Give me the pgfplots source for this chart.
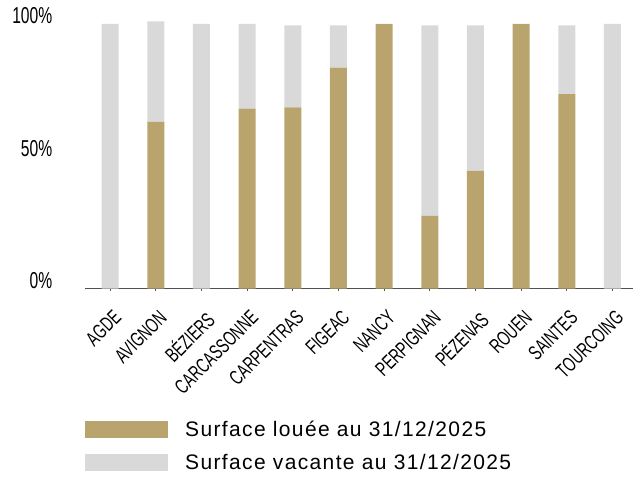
\documentclass[border=0pt]{standalone}
\usepackage{fontspec}
\setmainfont{Liberation Sans}
\newfontfamily\condfont{Liberation Sans}[FakeStretch=0.68]
\newfontfamily\legfont{Liberation Sans}[LetterSpace=6.5]
\usepackage{pgfplots}
\pgfplotsset{compat=1.18}
\definecolor{gold}{HTML}{B8A46C}
\definecolor{lgray}{HTML}{D9D9D9}
\definecolor{axgray}{HTML}{505050}
\begin{document}
\begin{tikzpicture}
\begin{axis}[
  scale only axis,
  width=548bp, height=264.7bp,
  ybar stacked, bar width=17bp,
  xmin=-0.55, xmax=11.45,
  ymin=0, ymax=100,
  clip=false,
  axis x line*=bottom, axis y line*=left,
  y axis line style={draw=none},
  x axis line style={draw=axgray, line width=1.3bp},
  ytick={0,50,100}, yticklabels={0\%,50\%,100\%},
  ytick style={draw=none},
  xtick={0,...,11},
  xticklabels={AGDE,AVIGNON,BÉZIERS,CARCASSONNE,CARPENTRAS,FIGEAC,NANCY,PERPIGNAN,PÉZENAS,ROUEN,SAINTES,TOURCOING},
  xtick style={draw=axgray, line width=0.8bp},
  tick align=outside, major tick length=2.5bp,
  yticklabel style={font=\condfont\fontsize{23bp}{26bp}\selectfont, anchor=base east, inner sep=0pt, xshift=-30bp, yshift=0bp},
  xticklabel style={font=\condfont\fontsize{20.5bp}{24bp}\selectfont, rotate=45, anchor=north east, inner sep=0pt, xshift=-11bp, yshift=-14bp},
  legend style={draw=none, at={(0,0)}, anchor=north west, yshift=-130bp, inner sep=0pt,
    font=\legfont\fontsize{21bp}{25bp}\selectfont, cells={anchor=west}, row sep=12bp},
  legend image code/.code={\fill[#1] (0bp,-8.5bp) rectangle (83bp,8.5bp);},
  /tikz/every odd column/.append style={column sep=15bp},
  legend cell align=left,
]
\addplot[fill=gold, draw=none] coordinates {(0,0) (1,63) (2,0) (3,68) (4,68.5) (5,83.5) (6,100) (7,27.5) (8,44.5) (9,100) (10,73.5) (11,0)};
\addplot[fill=lgray, draw=none] coordinates {(0,100) (1,38) (2,100) (3,32) (4,31) (5,16) (6,0) (7,72) (8,55) (9,0) (10,26) (11,100)};
\legend{Surface louée au 31/12/2025, Surface vacante au 31/12/2025}
\end{axis}
\path (current axis.south west) ++(-85bp,-190.3bp) rectangle ++(641bp,479bp);
\end{tikzpicture}
\end{document}
